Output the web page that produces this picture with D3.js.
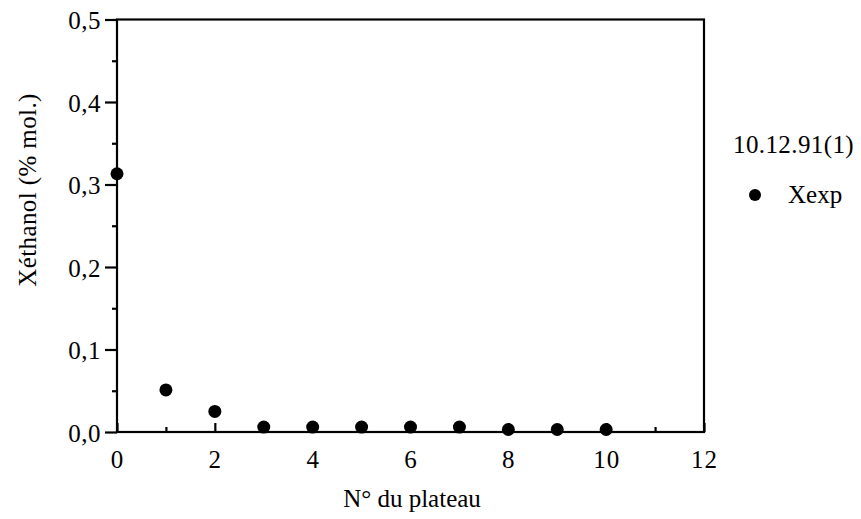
<!DOCTYPE html>
<html><head><meta charset="utf-8">
<script src="https://cdn.jsdelivr.net/npm/d3@7"></script>
<style>
html,body{margin:0;padding:0;background:#fff;}
</style></head>
<body>
<svg id="c" width="861" height="519"></svg>
<script>
const plateaux = [0, 1, 2, 3, 4, 5, 6, 7, 8, 9, 10];
const xexp = [0.313, 0.051, 0.025, 0.006, 0.006, 0.006, 0.006, 0.006, 0.003, 0.003, 0.003];
const xTicks = [0, 2, 4, 6, 8, 10, 12];
const xMinorTicks = [1, 3, 5, 7, 9, 11];
const yTicks = [0, 0.1, 0.2, 0.3, 0.4, 0.5];
const yMinorTicks = [0.05, 0.15, 0.25, 0.35, 0.45];
const legendTitle = "10.12.91(1)";
const seriesName = "Xexp";
const xLabel = "N° du plateau";
const yLabel = "Xéthanol (% mol.)";

const FONT = "'Liberation Serif', 'Times New Roman', serif";
const FS = 25;
const svg = d3.select("#c");
const L = 117, R = 704, T = 19.5, B = 432;
const x = d3.scaleLinear().domain([0, 12]).range([L, R]);
const y = d3.scaleLinear().domain([0, 0.5]).range([B, T]);
const fmt = d => d3.format(".1f")(d).replace(".", ",");
const styleText = sel => sel.attr("font-family", null).style("font-family", FONT).style("font-size", FS + "px").attr("fill", "#000");

// frame
svg.append("rect").attr("x", L).attr("y", T).attr("width", R - L).attr("height", B - T)
  .attr("fill", "none").attr("stroke", "#000").attr("stroke-width", 2.2);

// y axis
const yAxis = svg.append("g").attr("transform", `translate(${L},0)`)
  .call(d3.axisLeft(y).tickValues(yTicks).tickFormat(fmt).tickSize(12).tickPadding(4));
yAxis.attr("font-family", null).attr("font-size", null);
yAxis.select(".domain").remove();
yAxis.selectAll("line").attr("stroke-width", 2.2);
yAxis.selectAll("text").call(styleText).attr("letter-spacing", "0.5px").attr("dy", "0.36em");
const yMin = svg.append("g").attr("transform", `translate(${L},0)`)
  .call(d3.axisLeft(y).tickValues(yMinorTicks).tickFormat("").tickSize(5));
yMin.select(".domain").remove();
yMin.selectAll("line").attr("stroke-width", 2.2);

// x axis (ticks inward)
const xAxis = svg.append("g").attr("transform", `translate(0,${B})`)
  .call(d3.axisBottom(x).tickValues(xTicks).tickFormat(d3.format("d")).tickSizeInner(-9).tickSizeOuter(0).tickPadding(18));
xAxis.attr("font-family", null).attr("font-size", null);
xAxis.select(".domain").remove();
xAxis.selectAll("line").attr("stroke-width", 2.2);
xAxis.selectAll("text").call(styleText).attr("letter-spacing", "1px");
const xMin = svg.append("g").attr("transform", `translate(0,${B})`)
  .call(d3.axisBottom(x).tickValues(xMinorTicks).tickFormat("").tickSizeInner(-5).tickSizeOuter(0));
xMin.select(".domain").remove();
xMin.selectAll("line").attr("stroke-width", 2.2);

// points
svg.append("g").selectAll("circle").data(plateaux).join("circle")
  .attr("cx", (d) => x(d)).attr("cy", (d, i) => y(xexp[i])).attr("r", 6.5).attr("fill", "#000");

// axis labels
svg.append("text").attr("x", 412).attr("y", 507).attr("text-anchor", "middle")
  .call(styleText).text(xLabel);
svg.append("text").attr("transform", `translate(36,190) rotate(-90)`).attr("text-anchor", "middle")
  .call(styleText).attr("letter-spacing", "0.4px").text(yLabel);

// legend
svg.append("text").attr("x", 733).attr("y", 153).call(styleText).attr("letter-spacing", "0.4px").text(legendTitle);
svg.append("circle").attr("cx", 755).attr("cy", 195).attr("r", 6).attr("fill", "#000");
svg.append("text").attr("x", 788).attr("y", 203).call(styleText).text(seriesName);
</script>
</body></html>
